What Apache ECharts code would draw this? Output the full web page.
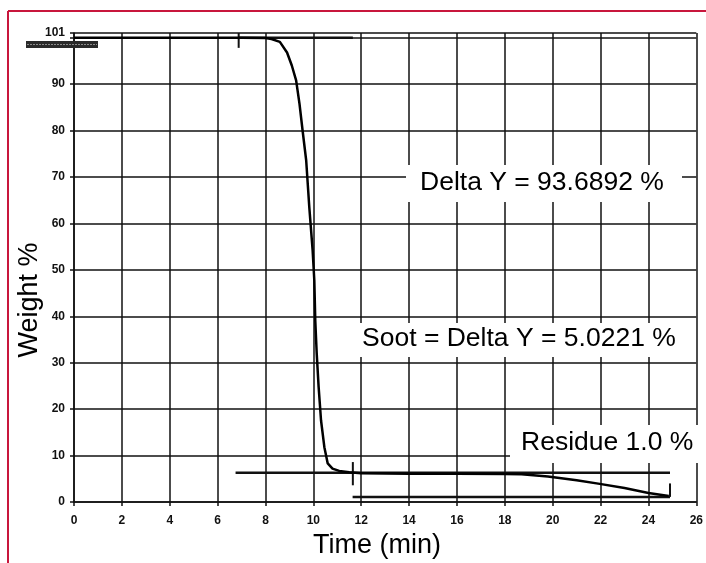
<!DOCTYPE html>
<html>
<head>
<meta charset="utf-8">
<script src="https://cdn.jsdelivr.net/npm/echarts@6/dist/echarts.min.js"></script>
<style>
  html, body { margin: 0; padding: 0; background: #fff; }
  #chart { width: 706px; height: 563px; }
</style>
</head>
<body>
<div id="chart"></div>
<script>
// TGA curve
const timeMin = [0, 2, 4, 6, 7, 8, 8.25, 8.6, 8.9, 9.1, 9.28, 9.42, 9.55, 9.7, 9.83, 9.97, 10.04, 10.08, 10.14, 10.22, 10.32, 10.46, 10.6, 10.8, 11.08, 11.5, 12, 14, 16, 18, 18.7, 19.8, 21, 21.9, 23, 24, 24.85];
const weightPct = [100, 100, 100, 100, 100, 99.9, 99.7, 99.1, 96.8, 94, 90.8, 85.8, 80, 73.6, 63.5, 54.2, 47.7, 39.1, 32, 24.8, 17.6, 11.8, 8.3, 7.2, 6.7, 6.4, 6.2, 6.1, 6.1, 6.05, 6.0, 5.5, 4.7, 3.96, 3.0, 1.94, 1.3];

// baselines and markers of the evaluation
const upperBaseline = [[6.88, 100], [11.65, 100]];
const lowerBaseline = [[6.75, 6.3], [24.9, 6.3]];
const residueBaseline = [[11.64, 1.1], [24.9, 1.1]];
const startMarker = [[6.88, 97.8], [6.88, 101]];
const midMarker = [[11.65, 3.6], [11.65, 8.6]];
const endMarker = [[24.9, 1.1], [24.9, 4.0]];

const labelDelta = 'Delta Y = 93.6892 %';
const labelSoot = 'Soot = Delta Y = 5.0221 %';
const labelResidue = 'Residue 1.0 %';

const FONT = '"Liberation Sans", Arial, sans-serif';
const INK = '#111';

const chart = echarts.init(document.getElementById('chart'));

const lineSeries = (data, width) => ({
  type: 'line',
  data: data,
  symbol: 'none',
  silent: true,
  lineStyle: { color: INK, width: width },
  z: 3,
});

const box = (x, y, w, h) => ({
  type: 'rect', z: 100,
  shape: { x: x, y: y, width: w, height: h },
  style: { fill: '#fff' },
});
const text = (t, x, y) => ({
  type: 'text', z: 101, x: x, y: y,
  style: { text: t, fill: '#000', font: '26.5px ' + FONT, align: 'left', verticalAlign: 'middle' },
});

chart.setOption({
  animation: false,
  grid: { left: 74, right: 8, top: 33, bottom: 61 },
  xAxis: {
    type: 'value',
    min: 0, max: 26, interval: 2,
    axisLine: { show: true, lineStyle: { color: INK, width: 1.5 } },
    axisTick: { show: true, length: 4, lineStyle: { color: INK, width: 1.5 } },
    axisLabel: { color: INK, fontSize: 12, fontWeight: 'bold', fontFamily: FONT, margin: 13, showMaxLabel: true },
    splitLine: { show: true, lineStyle: { color: INK, width: 1.5 } },
  },
  yAxis: {
    type: 'value',
    min: 0, max: 101, interval: 10,
    axisLine: { show: true, lineStyle: { color: INK, width: 1.5 } },
    axisTick: { show: true, length: 4, lineStyle: { color: INK, width: 1.5 } },
    axisLabel: {
      color: INK, fontSize: 12, fontWeight: 'bold', fontFamily: FONT, margin: 9,
      showMaxLabel: true,
      formatter: (v) => (v === 100 ? '' : String(v)),
    },
    splitLine: { show: true, lineStyle: { color: INK, width: 1.5 } },
  },
  series: [
    {
      type: 'line',
      data: timeMin.map((t, i) => [t, weightPct[i]]),
      symbol: 'none',
      silent: true,
      lineStyle: { color: '#000', width: 2.5 },
      z: 4,
    },
    lineSeries(upperBaseline, 2.5),
    lineSeries(lowerBaseline, 2.5),
    lineSeries(residueBaseline, 2.5),
    lineSeries(startMarker, 2),
    lineSeries(midMarker, 2),
    lineSeries(endMarker, 2),
  ],
  graphic: [
    // page frame (red) from the source figure
    { type: 'line', z: 200, shape: { x1: 8, y1: 11, x2: 706, y2: 11 }, style: { stroke: '#c8163c', lineWidth: 2 } },
    { type: 'line', z: 200, shape: { x1: 8, y1: 11, x2: 8, y2: 563 }, style: { stroke: '#c8163c', lineWidth: 2 } },
    // hatched bar at the top left
    { type: 'rect', z: 150, shape: { x: 26, y: 41, width: 72, height: 7 }, style: { fill: '#2a2a2a' } },
    { type: 'line', z: 151, shape: { x1: 27, y1: 44.5, x2: 97, y2: 44.5 }, style: { stroke: '#8a8a8a', lineWidth: 1, lineDash: [2, 1] } },
    // annotations
    box(406, 165, 276, 37),
    text(labelDelta, 420, 183),
    box(352, 323, 343, 34),
    text(labelSoot, 362, 339),
    box(510, 425, 190, 38),
    text(labelResidue, 521, 442.5),
    // axis titles
    {
      type: 'text', x: 30, y: 300, rotation: Math.PI / 2,
      style: { text: 'Weight %', fill: '#000', font: '27px ' + FONT, align: 'center', verticalAlign: 'middle' },
    },
    {
      type: 'text', x: 377, y: 546,
      style: { text: 'Time (min)', fill: '#000', font: '27px ' + FONT, align: 'center', verticalAlign: 'middle' },
    },
  ],
});
</script>
</body>
</html>
